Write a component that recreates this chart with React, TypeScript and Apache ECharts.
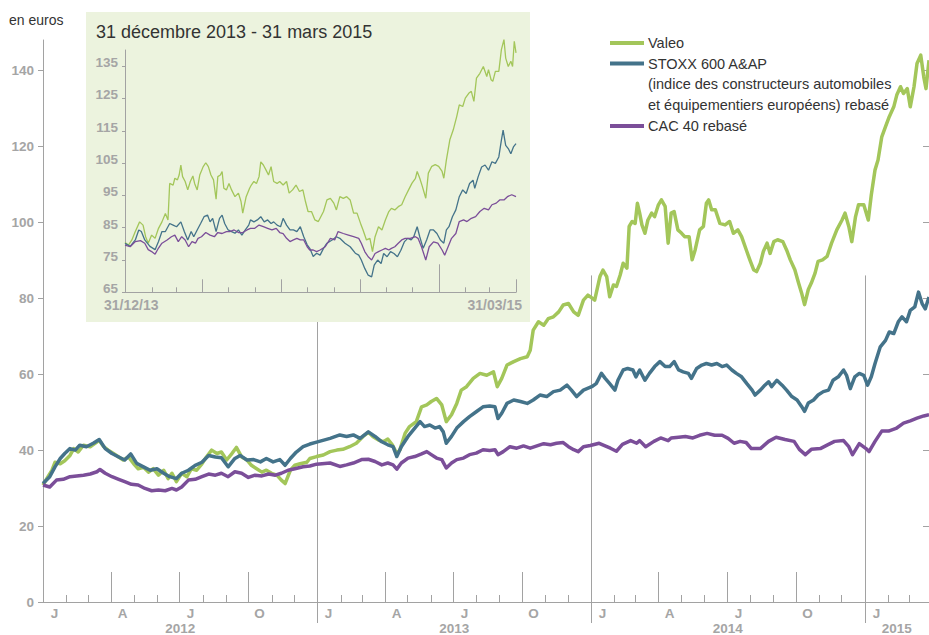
import { useEffect, useRef } from "react";
import * as echarts from "echarts";

// ---- Main chart data: [days since 2012-01-01, value in euros] ----
const valeoMain: number[][] = [
  [0,30.8],[5,32.5],[12,34.7],[16,36.8],[23,36.4],[29,37.2],[36,38.6],[41,40.4],[47,39.5],[54,41.3],[63,40.9],[69,41.7],[75,42.6],[81,40.9],[87,40],[94,39.1],[101,38.2],[107,37.4],[114,38.2],[121,36.4],[127,35.1],[134,35.5],[141,34.2],[147,35.1],[154,33.4],[161,34.7],[167,32.5],[172,33.9],[178,31.7],[185,33.9],[192,33],[198,35.1],[205,34.7],[212,36.4],[218,38.2],[225,40],[232,39.1],[238,39.5],[245,37.4],[252,39.1],[258,40.7],[265,38.2],[272,37.4],[278,36],[285,35.1],[292,34.2],[298,34.7],[305,33.9],[312,33.4],[318,32.1],[323,31.2],[330,34.7],[336,36],[343,36.4],[352,36.8],[356,37.8],
  [365,38.3],[374,38.7],[383,39.6],[392,40],[400,40.2],[409,40.9],[418,41.8],[427,43.6],[434,44.7],[440,43.6],[447,42.7],[454,42.2],[460,42.9],[466,41.4],[472,39.1],[476,40],[483,44.4],[489,46.2],[498,47.5],[505,51.4],[512,51.9],[518,52.8],[525,53.6],[532,51.9],[538,47.5],[545,49.3],[552,52.3],[558,55.8],[565,56.7],[574,58.9],[583,60.2],[592,59.7],[601,60.6],[606,56.7],[612,58.9],[619,62.4],[628,63.3],[637,64.1],[646,64.6],[650,66.3],[654,71.6],[661,73.8],[668,72.9],[674,74.6],[681,75.1],[688,76.4],[694,78.2],[701,78.6],[708,76.4],[714,75.5],[721,79.5],[727,80.8],
  [730,80.4],[736,79.5],[743,85.7],[747,87.4],[752,85.7],[756,80.4],[761,83.5],[765,83.1],[770,86.1],[774,89.2],[779,87.9],[782,98.9],[786,100.2],[790,99.7],[793,105],[796,102.4],[799,99.3],[803,97.1],[807,100.6],[812,102.4],[816,101.5],[821,104.6],[825,105.9],[830,104.2],[834,94.5],[838,102.4],[842,102.8],[847,98],[852,97.1],[856,96.2],[862,96.2],[866,90.1],[870,92.7],[876,98],[881,98.9],[885,105],[888,105.9],[892,103.3],[897,103.3],[903,99.7],[910,99.3],[916,100.2],[921,97.1],[927,98],[932,96.2],[939,92.3],[943,90.1],[948,87.5],[952,87],[957,89.2],[961,92.3],[966,94.5],[970,91.8],[975,94.9],[980,95.4],[987,94.9],[992,92.7],[997,90.1],[1003,87.5],[1008,84],[1012,81.4],[1016,78.3],[1021,82.3],[1025,84],[1030,86.6],[1034,89.7],[1040,90.1],[1046,91],[1052,94.5],[1059,98],[1066,100.6],[1070,102.4],[1075,98.9],[1079,94.9],[1084,101.5],[1088,104.6],[1095,104.6],[1101,100.6],[1105,107.2],[1110,113.8],[1114,116.4],[1119,122.5],[1124,125.2],[1129,127.8],[1135,130.4],[1139,133.5],[1144,135.7],[1148,133.9],[1153,135.2],[1157,130.4],[1162,135.7],[1166,141.8],[1171,144],[1175,138.3],[1178,135.2],[1182,142.7]
];

const stoxxMain: number[][] = [
  [0,31.2],[9,33],[16,35.6],[23,37.8],[29,39.1],[36,40.4],[43,40],[49,41.3],[58,40.9],[67,41.8],[75,42.8],[83,40.4],[92,39.1],[101,38.2],[109,37.4],[117,39],[125,36.5],[134,35.6],[143,34.7],[152,35.1],[161,33.9],[169,33],[178,32.5],[185,33.9],[194,34.7],[203,36],[212,36.8],[221,38.6],[230,38.2],[238,38],[247,35.6],[256,37.8],[263,38.6],[272,37.4],[281,37.5],[290,36.9],[298,37.8],[307,36.9],[316,37.5],[323,36],[330,37.8],[338,39.5],[347,40.9],[356,41.6],
  [365,42.1],[383,43.1],[396,44],[405,43.6],[414,44],[423,43.1],[434,44.8],[443,43.6],[452,42.2],[460,41.4],[467,40.9],[472,38.3],[478,40.9],[487,43.6],[496,45.8],[503,47.5],[509,46.2],[516,46.6],[523,45.8],[529,46.2],[534,44.8],[538,41.8],[545,43.6],[552,45.8],[561,47.5],[569,48.8],[578,50.1],[587,51.4],[596,51.6],[603,51.4],[607,48.3],[612,49.7],[619,52.3],[628,53.2],[637,52.8],[646,52.3],[654,53.2],[663,54.5],[672,54.1],[681,55.4],[690,55.8],[699,57.1],[705,55.8],[712,54.1],[721,55.8],
  [732,56.7],[738,57.5],[745,60.2],[750,58.9],[756,57.5],[763,55.8],[767,58.4],[774,61.1],[780,61.5],[787,61.1],[791,59.3],[796,61.1],[803,58.4],[809,60.2],[816,62],[823,63.3],[830,62],[836,62],[842,63.3],[848,61.1],[854,60.6],[861,60.2],[865,58.9],[872,61.5],[879,62.4],[885,62.8],[892,62.4],[899,62.8],[906,62],[912,62.4],[919,61.1],[925,60.2],[932,59.3],[939,57.5],[946,55.8],[950,54.5],[957,55.8],[963,57.1],[968,58],[972,56.7],[979,58.4],[986,57.1],[992,55.8],[999,54.1],[1006,53.2],[1012,51.5],[1016,50.2],[1021,52.4],[1028,53.2],[1034,54.5],[1041,55.4],[1048,55.8],[1054,58.4],[1061,59.3],[1068,61.1],[1072,59.7],[1077,56.2],[1083,59.3],[1089,60.2],[1095,59.7],[1100,57.1],[1105,59.3],[1110,62.8],[1117,67.2],[1124,68.9],[1129,71.1],[1135,70.7],[1141,73.8],[1146,75.1],[1152,73.8],[1157,76.8],[1163,77.7],[1168,81.6],[1173,78.5],[1177,77.2],[1182,80.3]
];

const cacMain: number[][] = [
  [0,30.8],[9,30.3],[18,32.1],[27,32.3],[36,33],[45,33.2],[54,33.4],[63,33.7],[72,34.3],[76,34.9],[83,33.9],[92,33],[101,32.3],[109,31.7],[118,31],[127,30.8],[136,29.9],[145,29.3],[154,29.5],[163,29.3],[172,29.9],[178,29.5],[185,30.3],[194,32.1],[203,32.3],[212,33],[221,33.7],[230,33.4],[238,33.9],[247,33],[256,34.3],[265,33.9],[274,32.8],[283,33.4],[292,33.2],[301,33.7],[310,33.4],[318,33.9],[327,34.7],[336,35.1],[347,35.6],[356,35.8],
  [365,36.3],[383,36.6],[396,35.7],[405,36.1],[414,36.6],[425,37.5],[434,37.6],[443,37],[452,36.1],[460,36.6],[467,36.1],[472,35],[478,36.6],[487,37.9],[496,38.3],[505,39],[512,39.6],[518,38.8],[525,37.9],[532,37.5],[538,35.3],[545,36.6],[552,37.5],[561,37.9],[569,38.8],[578,39.2],[587,40.1],[596,39.9],[603,40.1],[607,38.8],[614,39.6],[623,40.9],[632,40.5],[641,41.1],[650,40.5],[659,41.1],[668,41.7],[677,41.4],[685,41.8],[694,42],[701,40.9],[708,40.1],[714,39.6],[721,40.9],
  [730,41.2],[742,41.8],[757,40.5],[765,39.7],[773,41.5],[784,42.5],[792,41.8],[796,42.5],[804,40.9],[815,42.3],[824,43.2],[834,42.5],[838,43.2],[848,43.4],[857,43.6],[867,43.2],[876,43.9],[886,44.4],[896,43.9],[906,43.9],[914,43.1],[922,41.8],[930,42.3],[938,42],[945,40.4],[957,40.4],[968,42.3],[978,43.4],[990,42.8],[1002,42.3],[1009,40.2],[1017,38.8],[1025,40.2],[1037,40.4],[1048,41.5],[1056,42.3],[1068,42.5],[1075,40.9],[1080,38.8],[1089,41.7],[1098,40.4],[1102,39.6],[1110,42.3],[1119,45],[1128,45],[1138,45.7],[1148,47.1],[1157,47.7],[1166,48.4],[1175,49],[1182,49.3]
];

// ---- Inset data: [days since 2013-12-31, rebased value] ----
const valeoInset: number[][] = [
  [0,80.4],[4,79.6],[8,81.2],[12,83.8],[17,86.8],[21,85.8],[24,82.2],[27,80.2],[31,82.7],[35,81.7],[39,84.8],[43,86.8],[47,89.4],[50,87.4],[52,98.7],[56,98.2],[58,100.3],[61,99.8],[63,101.3],[65,104.4],[67,100.8],[70,99.3],[73,96.7],[76,99.3],[79,101],[81,98.7],[84,96.7],[87,101.3],[91,103.9],[94,105.1],[97,103.9],[100,101.3],[103,99.8],[106,93.8],[108,100.8],[111,101.3],[113,102.4],[115,97.2],[118,96.7],[121,98.7],[124,96.7],[128,94.6],[132,95.7],[135,93.1],[137,89.5],[141,94.6],[145,97.2],[147,98.2],[150,99.3],[153,98.7],[156,100.8],[158,105.4],[161,104.4],[164,102.9],[167,101.3],[170,103.9],[173,99.3],[177,98.7],[180,99.3],[184,98.2],[188,99.3],[191,95.7],[195,96.7],[199,98.2],[203,96.2],[207,96.7],[210,93.1],[213,90],[217,90],[221,87.4],[225,86.9],[231,90],[235,93.6],[239,94.1],[243,92.6],[246,90.5],[250,94.6],[254,94.1],[258,94.6],[262,93.6],[266,89.5],[270,89.5],[274,86.4],[277,84.3],[281,81.2],[285,81.7],[288,77.6],[291,82.2],[295,85.3],[299,84.3],[303,87.4],[307,90],[310,91],[314,90.5],[318,91.5],[322,92.1],[326,94.6],[330,96.7],[334,98.8],[338,100.3],[340,102.4],[343,100.3],[346,97.8],[350,94.1],[353,101.9],[357,104],[361,104.5],[365,104],[369,102.4],[371,100.3],[374,106],[378,112.2],[382,115.3],[386,119.4],[389,123],[393,122.5],[396,125.1],[400,126.6],[403,127.2],[406,124.1],[409,131.3],[413,132.8],[417,134.9],[421,131.8],[423,133.9],[426,130.8],[428,130.3],[431,133.4],[435,133.4],[438,140.1],[441,143.2],[443,137.5],[446,134.9],[449,136.5],[451,134.9],[453,142.7],[455,139.1]
];

const stoxxInset: number[][] = [
  [0,80.2],[6,79.2],[12,81.2],[16,84.3],[19,83.8],[23,81.2],[29,79.2],[35,78.2],[39,80.7],[43,83.8],[47,83.8],[52,86.3],[56,85.8],[60,85.3],[65,86.8],[69,83.8],[73,81.2],[77,83.8],[80,82.2],[84,84.3],[88,86.3],[92,88.4],[96,88.9],[99,86.8],[102,87.9],[106,83.8],[110,87.9],[113,88.9],[116,86.3],[120,84.3],[124,83.8],[128,83.3],[132,84.3],[136,82.7],[140,84.3],[144,85.8],[146,87.4],[150,86.8],[154,87.4],[158,88.4],[162,86.8],[166,87.4],[170,86.3],[173,86.8],[177,85.8],[181,85.3],[184,87.9],[188,85.8],[192,84.3],[196,84.3],[200,83.8],[204,85.3],[208,82.2],[212,79.7],[215,78.6],[219,76.1],[223,77.1],[227,76.5],[231,78.6],[235,80.2],[241,81.2],[246,82.2],[250,81.7],[256,80.2],[262,79.1],[268,77.1],[272,76.5],[275,75],[279,72.4],[283,70.3],[287,69.8],[290,73.4],[294,75],[298,73.9],[301,77],[305,76],[309,77.6],[313,77],[317,76],[321,78],[325,80.6],[329,81.7],[333,81.2],[336,82.2],[340,85.3],[343,82.2],[347,78.6],[351,81.2],[355,84.3],[359,84.3],[363,83.2],[367,81.2],[371,80.2],[374,84.3],[377,85.3],[381,88.4],[385,90.5],[389,94.6],[393,96.7],[397,95.6],[401,98.7],[405,99.7],[407,97.2],[411,100.8],[415,103.8],[419,104.4],[423,102.8],[427,105.4],[431,104.9],[435,106.9],[438,112.1],[440,115.2],[443,110.5],[446,109.5],[449,107.9],[452,110],[455,111]
];

const cacInset: number[][] = [
  [0,79.6],[6,79.1],[12,80.7],[18,81],[23,80.2],[27,78.2],[31,77.6],[35,76.8],[39,78.7],[43,80.2],[49,81.2],[54,82.2],[58,82.7],[62,80.7],[66,82.2],[70,81.2],[74,79.1],[78,80.7],[82,80.2],[85,81.7],[89,82.2],[94,83.5],[99,82.7],[104,82.2],[108,83.5],[113,83.2],[118,83.8],[122,83.8],[127,84.3],[132,83.5],[137,83.5],[142,84.3],[146,84.8],[151,84.8],[156,85.8],[161,85.3],[166,84.8],[171,84.3],[176,84.8],[180,83.5],[184,83.2],[188,81.7],[192,80.7],[196,81.2],[200,81.7],[204,81.2],[208,81.2],[212,79.1],[215,78.1],[219,78.1],[223,77.6],[227,78.1],[233,79.1],[239,81.7],[244,81.2],[248,83.8],[254,83.2],[260,82.7],[266,82.2],[272,81.7],[275,80.2],[279,77.6],[283,76],[287,75],[291,77],[295,77.6],[299,78.1],[303,78.6],[307,78.1],[310,78.6],[314,79.1],[318,80.2],[322,81.2],[326,81.7],[332,81.7],[338,82.2],[341,81.7],[345,79.1],[350,75],[354,79.1],[359,80.6],[364,80.2],[369,78.1],[372,76.5],[376,79.1],[380,81.7],[385,83.2],[389,86.9],[394,87.4],[398,86.9],[403,87.9],[408,88.4],[413,90],[418,91],[423,90.5],[427,92.1],[432,92.6],[436,93.6],[441,93.6],[445,94.6],[450,95.2],[455,94.6]
];

// ---- Axis labels / ticks ----
const seriesNames = ["Valeo", "STOXX 600 A&AP", "CAC 40 rebasé"];
const stoxxLegendLines = ["STOXX 600 A&AP", "(indice des constructeurs automobiles", "et équipementiers européens) rebasé"];
const quarterLabels = ["J", "A", "J", "O"];
const years = [2012, 2013, 2014, 2015];
const mainYTicks = [0, 20, 40, 60, 80, 100, 120, 140];
const insetYTicks = [65, 75, 85, 95, 105, 115, 125, 135];
const insetStartLabel = "31/12/13";
const insetEndLabel = "31/03/15";
const insetTitle = "31 décembre 2013 - 31 mars 2015";
const unitLabel = "en euros";

const GREEN = "#a3c65a";
const TEAL = "#44738a";
const PURPLE = "#7b4e99";
const AXIS = "#a2a2a2";
const LABEL = "#a5a5a5";
const DARK = "#333333";
const FONT = '"Liberation Sans", Arial, Helvetica, sans-serif';

const DAY = 86400000;
const MAIN0 = Date.UTC(2012, 0, 1);
const INSET0 = Date.UTC(2013, 11, 31);
const MAIN_MAX = 1182;
const INSET_MAX = 455;

type Mark = { day: number; kind: number; label: string; v?: number };

function buildMainMarks(): Mark[] {
  const marks: Mark[] = [];
  years.forEach((y) => {
    for (let m = 0; m < 12; m++) {
      const d = Math.round((Date.UTC(y, m, 1) - MAIN0) / DAY);
      if (d > MAIN_MAX) break;
      const kind = m === 0 ? 2 : m % 3 === 0 ? 1 : 0;
      marks.push({ day: d, kind, label: m % 3 === 0 ? quarterLabels[m / 3] : "" });
    }
    const s = Math.round((Date.UTC(y, 0, 1) - MAIN0) / DAY);
    const e = Math.min(MAIN_MAX, Math.round((Date.UTC(y + 1, 0, 1) - MAIN0) / DAY));
    marks.push({ day: (s + e) / 2, kind: 3, label: String(y) });
  });
  return marks;
}

function buildInsetMarks(): Mark[] {
  const marks: Mark[] = [];
  for (let i = 1; i <= 15; i++) {
    const end = Date.UTC(2014, i, 0); // last day of month (2014-01 .. 2015-03)
    const d = Math.round((end - INSET0) / DAY);
    const month = new Date(end).getUTCMonth();
    const kind = month === 11 ? 2 : (month + 1) % 3 === 0 ? 1 : 0;
    marks.push({ day: d, kind, label: "" });
  }
  marks.push({ day: 0, kind: 4, label: insetStartLabel });
  marks.push({ day: INSET_MAX, kind: 5, label: insetEndLabel });
  insetYTicks.forEach((v) => marks.push({ day: 0, kind: 6, label: String(v), v }));
  return marks;
}

export default function App() {
  const ref = useRef<HTMLDivElement>(null);

  useEffect(() => {
    if (!ref.current) return;
    const chart = echarts.init(ref.current, null, { renderer: "svg" });
    const mainMarks = buildMainMarks();
    const insetMarks = buildInsetMarks();
    const grayFont = `bold 13.5px ${FONT}`;
    const txt = (text: string, font: string, fill: string, align: string) => ({
      text, font, fill, align, textAlign: align, verticalAlign: "middle", textVerticalAlign: "middle",
    });

    const option: any = {
      animation: false,
      grid: [
        { left: 43, top: 40, width: 886, height: 562 },
        { left: 125, top: 50, width: 391, height: 242.3 },
      ],
      xAxis: [
        {
          type: "value", gridIndex: 0, min: 0, max: MAIN_MAX,
          axisLine: { show: true, onZero: false, lineStyle: { color: AXIS, width: 1 } },
          axisTick: { show: false }, axisLabel: { show: false }, splitLine: { show: false },
        },
        {
          type: "value", gridIndex: 1, min: 0, max: INSET_MAX, z: 6,
          axisLine: { show: true, onZero: false, lineStyle: { color: AXIS, width: 1 } },
          axisTick: { show: false }, axisLabel: { show: false }, splitLine: { show: false },
        },
      ],
      yAxis: [
        {
          type: "value", gridIndex: 0, min: 0, max: 148, interval: 20,
          axisLine: { show: true, lineStyle: { color: AXIS, width: 1 } },
          axisTick: { show: true, length: 5, lineStyle: { color: AXIS }, customValues: mainYTicks },
          axisLabel: {
            color: LABEL, fontSize: 13.5, fontWeight: "bold", fontFamily: FONT, margin: 9,
            customValues: mainYTicks,
          },
          splitLine: { show: false },
        },
        {
          type: "value", gridIndex: 0, min: 0, max: 148, interval: 20,
          axisLine: { show: false },
          axisTick: { show: true, inside: true, length: 6, lineStyle: { color: AXIS }, customValues: mainYTicks },
          axisLabel: { show: false },
          splitLine: { show: false },
        },
        {
          type: "value", gridIndex: 1, min: 65, max: 140, interval: 10, z: 6,
          axisLine: { show: true, lineStyle: { color: AXIS, width: 1 } },
          axisTick: { show: true, length: 3, lineStyle: { color: AXIS }, customValues: insetYTicks },
          axisLabel: { show: false },
          splitLine: { show: false },
        },
      ],
      graphic: [
        { type: "rect", z: 2, silent: true, shape: { x: 86, y: 12, width: 444, height: 310 }, style: { fill: "#ecf3de" } },
        { type: "text", z: 7, x: 96, y: 32, silent: true, style: txt(insetTitle, `18px ${FONT}`, DARK, "left") },
        { type: "text", z: 7, x: 9, y: 20, silent: true, style: txt(unitLabel, `14px ${FONT}`, DARK, "left") },
        // legend
        { type: "line", z: 7, silent: true, shape: { x1: 610, y1: 43, x2: 644, y2: 43 }, style: { stroke: GREEN, lineWidth: 4 } },
        { type: "line", z: 7, silent: true, shape: { x1: 610, y1: 63.5, x2: 644, y2: 63.5 }, style: { stroke: TEAL, lineWidth: 4 } },
        { type: "line", z: 7, silent: true, shape: { x1: 610, y1: 126, x2: 644, y2: 126 }, style: { stroke: PURPLE, lineWidth: 4 } },
        ...[
          [seriesNames[0], 43],
          [stoxxLegendLines[0], 63.5],
          [stoxxLegendLines[1], 84],
          [stoxxLegendLines[2], 104.5],
          [seriesNames[2], 126],
        ].map(([t, y]) => ({
          type: "text", z: 7, x: 648, y, silent: true, style: txt(t as string, `14.5px ${FONT}`, DARK, "left"),
        })),
      ],
      series: [
        {
          type: "custom", xAxisIndex: 0, yAxisIndex: 0, z: 1, silent: true,
          data: mainMarks.map((m) => [m.day, m.kind]),
          renderItem: (params: any, api: any) => {
            const m = mainMarks[params.dataIndex];
            const p = api.coord([m.day, 0]);
            const x = Math.round(p[0]) + 0.5;
            const y = p[1];
            const children: any[] = [];
            const st = { stroke: AXIS, lineWidth: 1 };
            if (m.kind === 0) children.push({ type: "line", shape: { x1: x, y1: y, x2: x, y2: y - 7 }, style: st });
            if (m.kind === 1) children.push({ type: "line", shape: { x1: x, y1: y, x2: x, y2: y - 30 }, style: st });
            if (m.kind === 2 && m.day > 0) {
              const top = api.coord([m.day, 86])[1];
              children.push({ type: "line", shape: { x1: x, y1: y + 21, x2: x, y2: top }, style: st });
            }
            if (m.kind !== 3 && m.label) {
              children.push({ type: "text", x: x + 11, y: y + 11, style: txt(m.label, grayFont, LABEL, "center") });
            }
            if (m.kind === 3) {
              children.push({ type: "text", x: p[0], y: y + 26, style: txt(m.label, grayFont, LABEL, "center") });
            }
            return { type: "group", children };
          },
        },
        ...[valeoMain, stoxxMain, cacMain].map((d, i) => ({
          name: seriesNames[i], type: "line", xAxisIndex: 0, yAxisIndex: 0, z: 3,
          data: d, showSymbol: false, symbol: "none", silent: true,
          lineStyle: { width: 3.5, color: [GREEN, TEAL, PURPLE][i], join: "round" },
          itemStyle: { color: [GREEN, TEAL, PURPLE][i] },
        })),
        {
          type: "custom", xAxisIndex: 1, yAxisIndex: 2, z: 6, silent: true,
          data: insetMarks.map((m) => [m.day, m.v ?? 65]),
          renderItem: (params: any, api: any) => {
            const m = insetMarks[params.dataIndex];
            const p = api.coord([m.day, m.v ?? 65]);
            const x = Math.round(p[0]) + 0.5;
            const y = p[1];
            const st = { stroke: AXIS, lineWidth: 1 };
            const children: any[] = [];
            const len = m.kind === 0 ? 5 : m.kind === 1 ? 13 : m.kind === 2 ? 28 : 0;
            if (len) children.push({ type: "line", shape: { x1: x, y1: y, x2: x, y2: y - len }, style: st });
            if (m.kind === 4) children.push({ type: "text", x: p[0] - 21, y: y + 13, style: txt(m.label, `bold 14px ${FONT}`, LABEL, "left") });
            if (m.kind === 5) children.push({ type: "text", x: p[0] + 6, y: y + 13, style: txt(m.label, `bold 14px ${FONT}`, LABEL, "right") });
            if (m.kind === 6) children.push({ type: "text", x: p[0] - 7, y: y - 3.5, style: txt(m.label, grayFont, LABEL, "right") });
            return { type: "group", children };
          },
        },
        ...[valeoInset, stoxxInset, cacInset].map((d, i) => ({
          name: seriesNames[i] + " (encart)", type: "line", xAxisIndex: 1, yAxisIndex: 2, z: 8,
          data: d, showSymbol: false, symbol: "none", silent: true, clip: false,
          lineStyle: { width: 1.3, color: [GREEN, TEAL, PURPLE][i] },
          itemStyle: { color: [GREEN, TEAL, PURPLE][i] },
        })),
      ],
    };

    chart.setOption(option);
    return () => chart.dispose();
  }, []);

  return <div ref={ref} style={{ position: "absolute", left: 0, top: 0, width: 929, height: 635 }} />;
}
